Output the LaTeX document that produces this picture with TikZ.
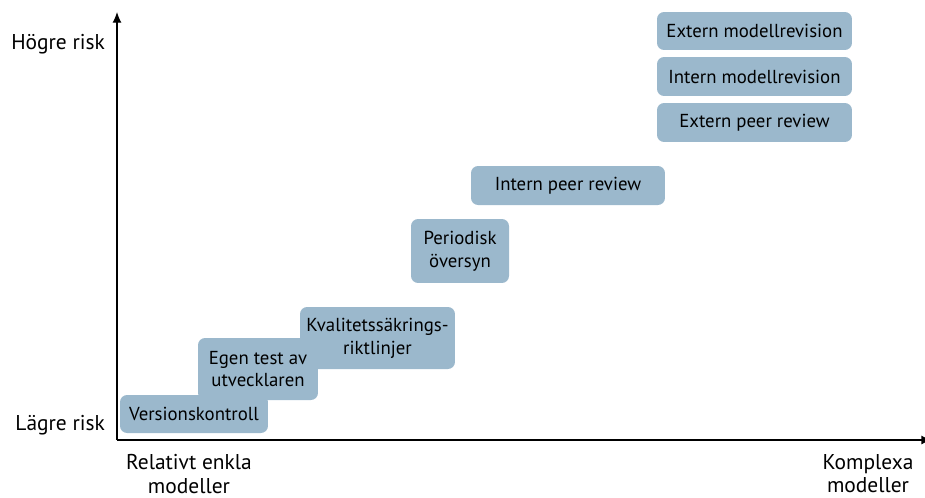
\documentclass[tikz,border=0pt]{standalone}
\usepackage{fontspec}
\setmainfont{PT Sans}
\usetikzlibrary{arrows.meta}
\definecolor{boxblue}{HTML}{9BB8CC}
\tikzset{
  riskbox/.style={fill=boxblue, rounded corners=4pt, align=center, inner sep=0pt, font=\fontsize{10.7}{13}\selectfont},
  axislabel/.style={align=center, inner sep=1pt, font=\fontsize{12.2}{13.2}\selectfont}
}
\begin{document}
\begin{tikzpicture}[x=0.02cm, y=-0.02cm]
    \useasboundingbox (0,0) rectangle (925,497);
    \coordinate (origin) at (117,440);
    \coordinate (ytop) at (117,12);
    \coordinate (xend) at (932,440);
    \draw[semithick][-{Latex[length=6pt,width=5pt]}] (origin) -- (ytop); % y axis
    \draw[semithick][-{Latex[length=6pt,width=5pt]}] (origin) -- (xend); % x axis
    \node[axislabel, anchor=east] (high) at (107,44) {Högre risk};
    \node[axislabel, anchor=east] (low) at (107,425) {Lägre risk};
    \node[axislabel] (simple) at (189,474) {Relativt enkla\\modeller};
    \node[axislabel] (complex) at (868,474) {Komplexa\\modeller};
    \node[riskbox, minimum width=3.1cm, minimum height=1.24cm] (kval) at (377.5,338) {Kvalitetssäkrings-\\riktlinjer};
    \node[riskbox, minimum width=2.4cm, minimum height=1.24cm] (egen) at (258,369) {Egen test av\\utvecklaren};
    \node[riskbox, minimum width=2.96cm, minimum height=0.76cm] (version) at (194,414) {Versionskontroll};
    \node[riskbox, minimum width=1.96cm, minimum height=1.28cm] (period) at (460,251) {Periodisk\\översyn};
    \node[riskbox, minimum width=3.88cm, minimum height=0.78cm] (intpeer) at (568,185.5) {Intern peer review};
    \node[riskbox, minimum width=3.9cm, minimum height=0.78cm] (extpeer) at (754.5,122.5) {Extern peer review};
    \node[riskbox, minimum width=3.9cm, minimum height=0.78cm] (intrev) at (754.5,76.5) {Intern modellrevision};
    \node[riskbox, minimum width=3.9cm, minimum height=0.76cm] (extrev) at (754.5,31) {Extern modellrevision};
\end{tikzpicture}
\end{document}
